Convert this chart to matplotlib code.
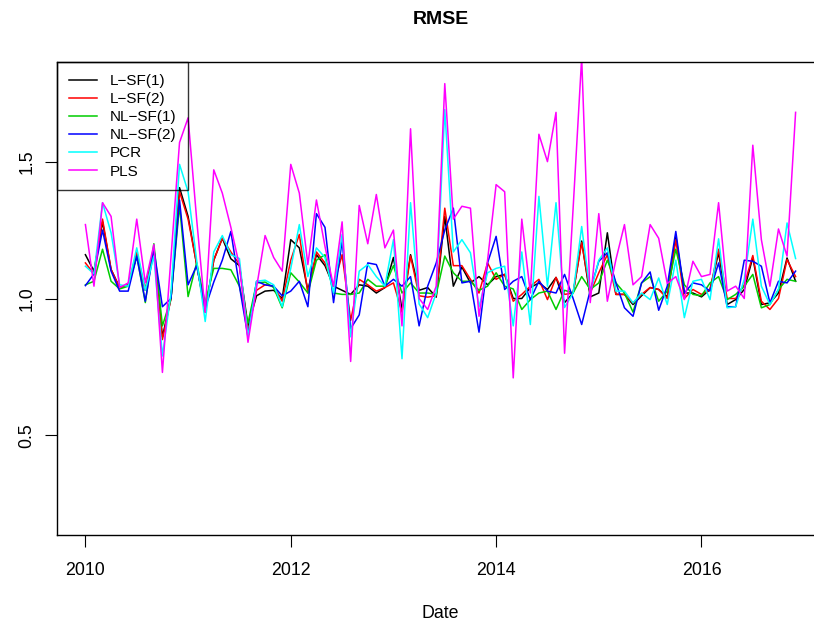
import numpy as np
import matplotlib
matplotlib.use("Agg")
import matplotlib.pyplot as plt

plt.rcParams['font.family'] = ['Liberation Sans', 'DejaVu Sans']

start_year = 2010
n_months = 84
x_ticks = [2010, 2012, 2014, 2016]
y_ticks = [0.5, 1.0, 1.5]

labels = ["L\u2212SF(1)", "L\u2212SF(2)", "NL\u2212SF(1)", "NL\u2212SF(2)", "PCR", "PLS"]
colors = ["#000000", "#FF0000", "#00CD00", "#0000FF", "#00FFFF", "#FF00FF"]

lsf1 = [1.16, 1.10, 1.28, 1.106, 1.04, 1.05, 1.155, 1.03, 1.18, 0.86,
        1.00, 1.405, 1.30, 1.125, 0.95, 1.14, 1.22, 1.145, 1.12, 0.90,
        1.01, 1.027, 1.03, 1.00, 1.215, 1.185, 1.03, 1.16, 1.12, 1.045,
        1.03, 1.015, 1.05, 1.045, 1.02, 1.04, 1.15, 0.96, 1.16, 1.03,
        1.04, 1.005, 1.30, 1.045, 1.115, 1.057, 1.08, 1.05, 1.08, 1.088,
        1.00, 1.00, 1.04, 1.057, 1.033, 1.077, 0.985, 1.02, 1.21, 1.006,
        1.02, 1.24, 1.015, 1.015, 0.978, 1.01, 1.04, 1.033, 1.006, 1.228,
        1.02, 1.02, 1.006, 1.033, 1.167, 0.978, 0.996, 1.033, 1.15, 0.978,
        0.984, 1.02, 1.148, 1.063]
lsf2 = [1.13, 1.09, 1.29, 1.106, 1.04, 1.05, 1.17, 1.03, 1.18, 0.85,
        1.00, 1.39, 1.29, 1.125, 0.95, 1.14, 1.22, 1.17, 1.125, 0.88,
        1.03, 1.05, 1.045, 0.99, 1.14, 1.234, 1.02, 1.17, 1.13, 1.045,
        1.16, 0.92, 1.07, 1.05, 1.027, 1.04, 1.057, 0.95, 1.155, 1.01,
        1.005, 1.01, 1.33, 1.12, 1.12, 1.07, 1.02, 1.13, 1.07, 1.088,
        0.99, 1.015, 1.045, 1.07, 0.996, 1.077, 1.015, 1.02, 1.204, 1.02,
        1.094, 1.16, 1.015, 1.015, 0.984, 1.015, 1.04, 1.033, 1.00, 1.215,
        1.00, 1.033, 1.015, 1.033, 1.18, 1.00, 1.00, 1.05, 1.157, 0.99,
        0.96, 1.00, 1.142, 1.08]
nlsf1 = [1.05, 1.063, 1.18, 1.063, 1.035, 1.045, 1.155, 0.985, 1.20, 0.90,
         1.00, 1.34, 1.007, 1.13, 0.985, 1.11, 1.11, 1.105, 1.045, 0.91,
         1.057, 1.06, 1.04, 0.966, 1.094, 1.06, 1.02, 1.14, 1.16, 1.02,
         1.015, 1.015, 1.02, 1.07, 1.045, 1.045, 1.12, 1.02, 1.057, 1.02,
         1.02, 1.015, 1.155, 1.094, 1.063, 1.063, 1.03, 1.045, 1.094, 1.045,
         1.035, 0.96, 0.996, 1.02, 1.027, 0.96, 1.03, 1.02, 1.08, 1.033,
         1.057, 1.14, 1.057, 1.02, 0.95, 1.057, 1.08, 0.99, 1.027, 1.18,
         1.05, 1.015, 1.01, 1.057, 1.08, 0.996, 1.015, 1.045, 1.088, 0.966,
         0.978, 1.033, 1.07, 1.063]
nlsf2 = [1.047, 1.09, 1.25, 1.10, 1.027, 1.027, 1.155, 0.99, 1.18, 0.97,
         1.00, 1.36, 1.05, 1.12, 0.965, 1.06, 1.14, 1.245, 1.045, 0.86,
         1.063, 1.05, 1.045, 1.01, 1.027, 1.063, 0.97, 1.31, 1.26, 0.985,
         1.21, 0.89, 0.94, 1.13, 1.124, 1.045, 1.07, 1.045, 1.08, 0.90,
         1.045, 1.13, 1.25, 1.33, 1.057, 1.063, 0.877, 1.13, 1.227, 1.033,
         1.063, 1.08, 0.996, 1.063, 1.027, 1.02, 1.088, 1.00, 0.905, 1.03,
         1.136, 1.167, 1.057, 0.966, 0.935, 1.057, 1.097, 0.957, 1.045, 1.245,
         1.02, 1.057, 1.05, 1.027, 1.13, 0.97, 0.97, 1.14, 1.136, 1.118,
         0.984, 1.063, 1.057, 1.10]
pcr = [1.118, 1.09, 1.35, 1.24, 1.05, 1.045, 1.185, 1.03, 1.155, 0.79,
       1.02, 1.49, 1.39, 1.14, 0.916, 1.17, 1.23, 1.16, 1.146, 0.86,
       1.063, 1.067, 1.05, 0.97, 1.11, 1.27, 1.08, 1.185, 1.15, 1.02,
       1.234, 0.86, 1.10, 1.124, 1.08, 1.045, 1.215, 0.78, 1.35, 0.98,
       0.93, 1.02, 1.69, 1.17, 1.215, 1.167, 0.97, 1.094, 1.11, 1.118,
       0.90, 1.17, 0.905, 1.373, 1.045, 1.35, 0.967, 1.02, 1.263, 1.02,
       1.14, 1.185, 1.027, 1.027, 0.984, 1.02, 0.996, 1.075, 0.978, 1.14,
       0.93, 1.063, 1.07, 0.996, 1.218, 0.966, 0.97, 1.07, 1.29, 1.045,
       0.978, 1.033, 1.276, 1.146]
pls = [1.27, 1.045, 1.35, 1.30, 1.04, 1.057, 1.29, 1.057, 1.197, 0.73,
       1.15, 1.57, 1.66, 1.29, 0.95, 1.47, 1.385, 1.26, 1.12, 0.84,
       1.04, 1.23, 1.15, 1.10, 1.49, 1.385, 1.124, 1.36, 1.19, 1.045,
       1.28, 0.77, 1.34, 1.20, 1.38, 1.185, 1.25, 0.90, 1.62, 1.00,
       0.96, 1.045, 1.785, 1.29, 1.337, 1.33, 0.935, 1.14, 1.416, 1.39,
       0.71, 1.29, 1.02, 1.60, 1.50, 1.68, 0.80, 1.33, 1.88, 0.985,
       1.31, 0.99, 1.142, 1.27, 1.05, 1.08, 1.27, 1.22, 1.055, 1.08,
       0.996, 1.136, 1.08, 1.088, 1.35, 1.027, 1.045, 1.00, 1.56, 1.215,
       1.045, 1.254, 1.155, 1.68]

series = [lsf1, lsf2, nlsf1, nlsf2, pcr, pls]
t = start_year + np.arange(n_months) / 12.0

W, H = 814, 627
fig = plt.figure(figsize=(W / 100, H / 100), dpi=100)
left_px, right_px, top_px, bottom_px = 57, 824, 62, 535
ax = fig.add_axes([left_px / W, 1 - bottom_px / H,
                   (right_px - left_px) / W, (bottom_px - top_px) / H])

for vals, c, lab in zip(series, colors, labels):
    ax.plot(t, vals, color=c, lw=1.1, label=lab)

x0, x1 = t[0], t[-1]
dx = (x1 - x0) * 0.04
ax.set_xlim(x0 - dx, x1 + dx)
ax.set_ylim(0.136, 1.864)

ax.set_xticks(x_ticks)
ax.set_xticklabels([str(v) for v in x_ticks])
ax.set_yticks(y_ticks)
ax.set_yticklabels([f"{v:.1f}" for v in y_ticks], rotation=90, va='center')
ax.tick_params(axis='both', direction='out', length=8.5, width=0.8,
               labelsize=12.8, colors='black')
ax.tick_params(axis='x', pad=11)
ax.tick_params(axis='y', pad=7)
for s in ax.spines.values():
    s.set_linewidth(1.0)
    s.set_color('black')

ax.set_xlabel("Date", fontsize=12.8)
ax.xaxis.set_label_coords(0.5, (bottom_px - 614) / (bottom_px - top_px))
ax.xaxis.label.set_va('center')

fig.text((left_px + right_px) / 2 / W, 1 - 19 / H, "RMSE",
         ha='center', va='center', fontsize=14, fontweight='bold')

leg = ax.legend(loc='upper left', fontsize=11, frameon=True, fancybox=False,
                borderaxespad=0.0, handlelength=1.85, handletextpad=0.8,
                labelspacing=0.27, borderpad=0.78)
leg.get_frame().set_edgecolor('black')
leg.get_frame().set_linewidth(1.0)
leg.get_frame().set_facecolor('none')

fig.savefig("out.png", dpi=100)
